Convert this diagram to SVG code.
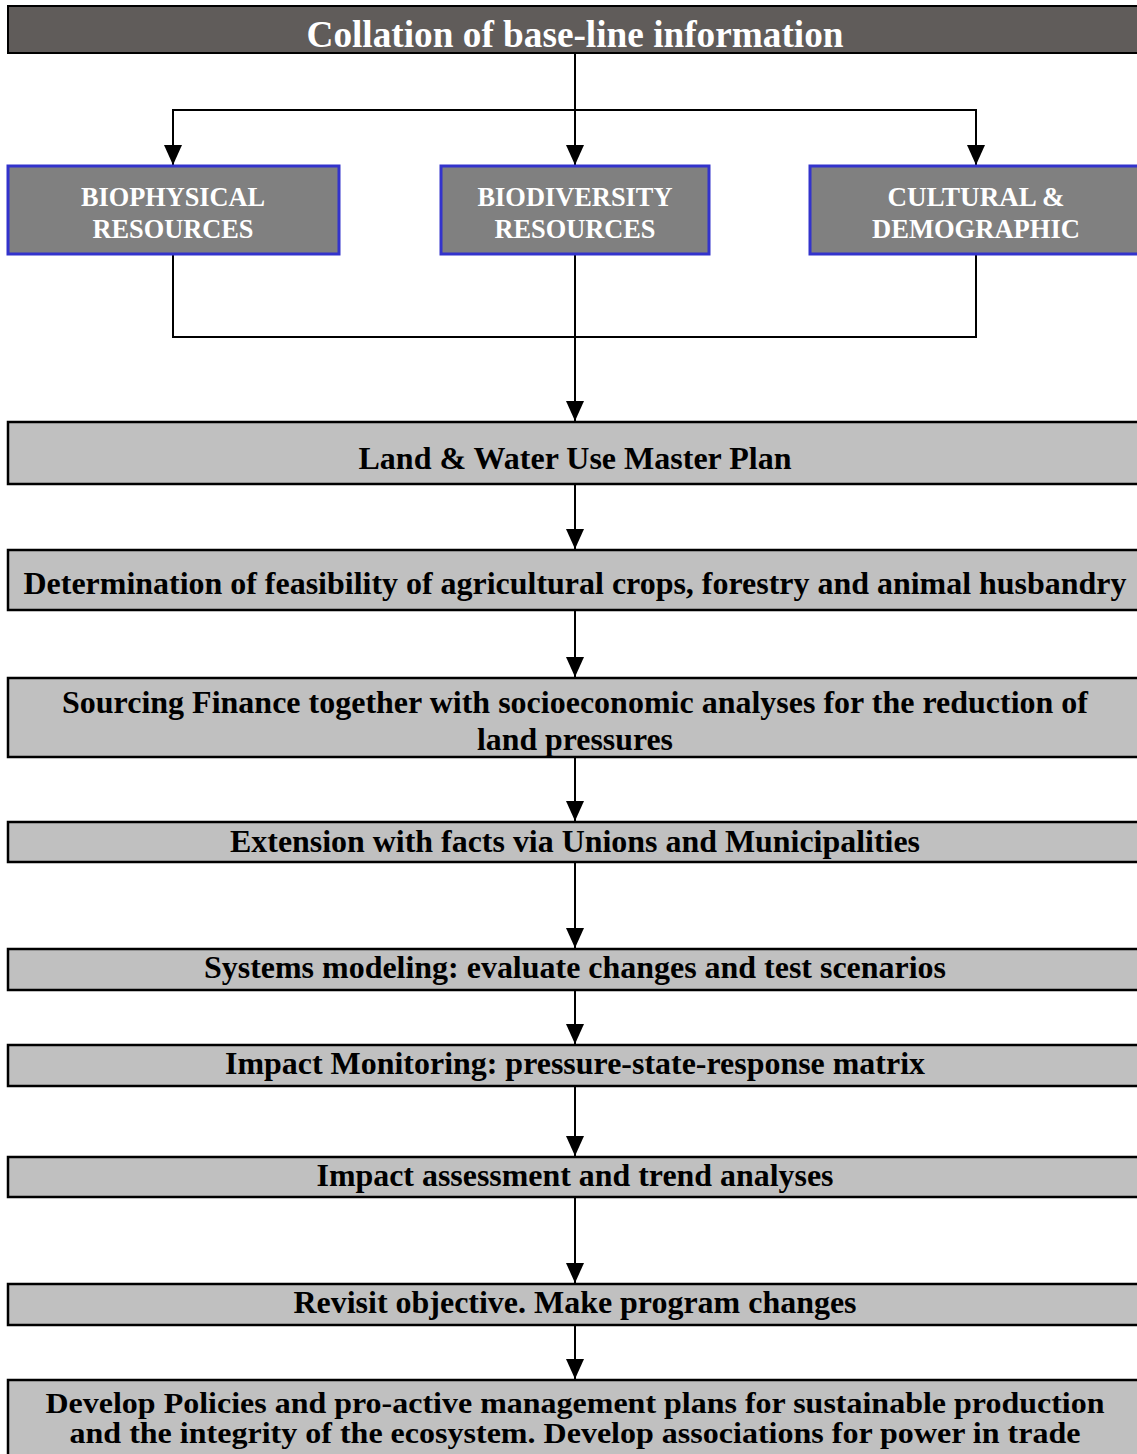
<svg xmlns="http://www.w3.org/2000/svg" width="1137" height="1454" viewBox="0 0 1137 1454">
<defs>
<marker id="ah" markerWidth="20" markerHeight="18" refX="20" refY="9" orient="auto" markerUnits="userSpaceOnUse" viewBox="0 0 20 18">
<path d="M0,0 L20,9 L0,18 Z" fill="#000"/>
</marker>
<style>
.step{fill:#c0c0c0;stroke:#000;stroke-width:2.5}
.res{fill:#808080;stroke:#3333cc;stroke-width:3}
text{font-family:'Liberation Serif','Times New Roman',Times,serif;font-weight:bold;text-anchor:middle}
.tb{font-size:32px;fill:#000}
.ts{font-size:29px;fill:#000}
.tw{font-size:27px;fill:#fff}
.tt{font-size:38px;fill:#fff}
.c{fill:none;stroke:#000;stroke-width:2}
</style>
</defs>
<rect width="1137" height="1454" fill="#fff"/>
<g id="connectors">
<path class="c" d="M575,53 V165" marker-end="url(#ah)"/>
<path class="c" d="M575,110 H976 V165" marker-end="url(#ah)"/>
<path class="c" d="M575,110 H173 V165" marker-end="url(#ah)"/>
<path class="c" d="M173,254 V337 H976 V254"/>
<path class="c" d="M575,254 V421" marker-end="url(#ah)"/>
<path class="c" d="M575,484 V549" marker-end="url(#ah)"/>
<path class="c" d="M575,610 V677" marker-end="url(#ah)"/>
<path class="c" d="M575,757 V821" marker-end="url(#ah)"/>
<path class="c" d="M575,862 V948" marker-end="url(#ah)"/>
<path class="c" d="M575,990 V1044" marker-end="url(#ah)"/>
<path class="c" d="M575,1086 V1156" marker-end="url(#ah)"/>
<path class="c" d="M575,1197 V1283" marker-end="url(#ah)"/>
<path class="c" d="M575,1325 V1379" marker-end="url(#ah)"/>
</g>
<g id="n-title">
<rect x="8" y="6" width="1140" height="47" fill="#605c5a" stroke="#000" stroke-width="2"/>
<text class="tt" x="575" y="47" textLength="537" lengthAdjust="spacingAndGlyphs">Collation of base-line information</text>
</g>
<g id="n-biophysical">
<rect class="res" x="8" y="166" width="331" height="88"/>
<text class="tw" x="173" y="206" textLength="184" lengthAdjust="spacingAndGlyphs">BIOPHYSICAL</text>
<text class="tw" x="173" y="238" textLength="161" lengthAdjust="spacingAndGlyphs">RESOURCES</text>
</g>
<g id="n-biodiversity">
<rect class="res" x="441" y="166" width="268" height="88"/>
<text class="tw" x="575" y="206" textLength="195" lengthAdjust="spacingAndGlyphs">BIODIVERSITY</text>
<text class="tw" x="575" y="238" textLength="161" lengthAdjust="spacingAndGlyphs">RESOURCES</text>
</g>
<g id="n-cultural">
<rect class="res" x="810" y="166" width="340" height="88"/>
<text class="tw" x="976" y="206" textLength="177" lengthAdjust="spacingAndGlyphs">CULTURAL &amp;</text>
<text class="tw" x="976" y="238" textLength="208" lengthAdjust="spacingAndGlyphs">DEMOGRAPHIC</text>
</g>
<g id="n-landwater">
<rect class="step" x="8" y="422" width="1140" height="62"/>
<text class="tb" x="575" y="469" textLength="433" lengthAdjust="spacingAndGlyphs">Land &amp; Water Use Master Plan</text>
</g>
<g id="n-feasibility">
<rect class="step" x="8" y="550" width="1140" height="60"/>
<text class="tb" x="575" y="594" textLength="1103" lengthAdjust="spacingAndGlyphs">Determination of feasibility of agricultural crops, forestry and animal husbandry</text>
</g>
<g id="n-finance">
<rect class="step" x="8" y="678" width="1140" height="79"/>
<text class="tb" x="575" y="713" textLength="1026" lengthAdjust="spacingAndGlyphs">Sourcing Finance together with socioeconomic analyses for the reduction of</text>
<text class="tb" x="575" y="750" textLength="196" lengthAdjust="spacingAndGlyphs">land pressures</text>
</g>
<g id="n-extension">
<rect class="step" x="8" y="822" width="1140" height="40"/>
<text class="tb" x="575" y="852" textLength="690" lengthAdjust="spacingAndGlyphs">Extension with facts via Unions and Municipalities</text>
</g>
<g id="n-systems">
<rect class="step" x="8" y="949" width="1140" height="41"/>
<text class="tb" x="575" y="978" textLength="742" lengthAdjust="spacingAndGlyphs">Systems modeling: evaluate changes and test scenarios</text>
</g>
<g id="n-monitoring">
<rect class="step" x="8" y="1045" width="1140" height="41"/>
<text class="tb" x="575" y="1074" textLength="700" lengthAdjust="spacingAndGlyphs">Impact Monitoring: pressure-state-response matrix</text>
</g>
<g id="n-assessment">
<rect class="step" x="8" y="1157" width="1140" height="40"/>
<text class="tb" x="575" y="1186" textLength="517" lengthAdjust="spacingAndGlyphs">Impact assessment and trend analyses</text>
</g>
<g id="n-revisit">
<rect class="step" x="8" y="1284" width="1140" height="41"/>
<text class="tb" x="575" y="1313" textLength="563" lengthAdjust="spacingAndGlyphs">Revisit objective. Make program changes</text>
</g>
<g id="n-policies">
<rect class="step" x="8" y="1380" width="1140" height="90"/>
<text class="ts" x="575" y="1413" textLength="1059" lengthAdjust="spacingAndGlyphs">Develop Policies and pro-active management plans for sustainable production</text>
<text class="ts" x="575" y="1443" textLength="1011" lengthAdjust="spacingAndGlyphs">and the integrity of the ecosystem. Develop associations for power in trade</text>
</g>
</svg>
